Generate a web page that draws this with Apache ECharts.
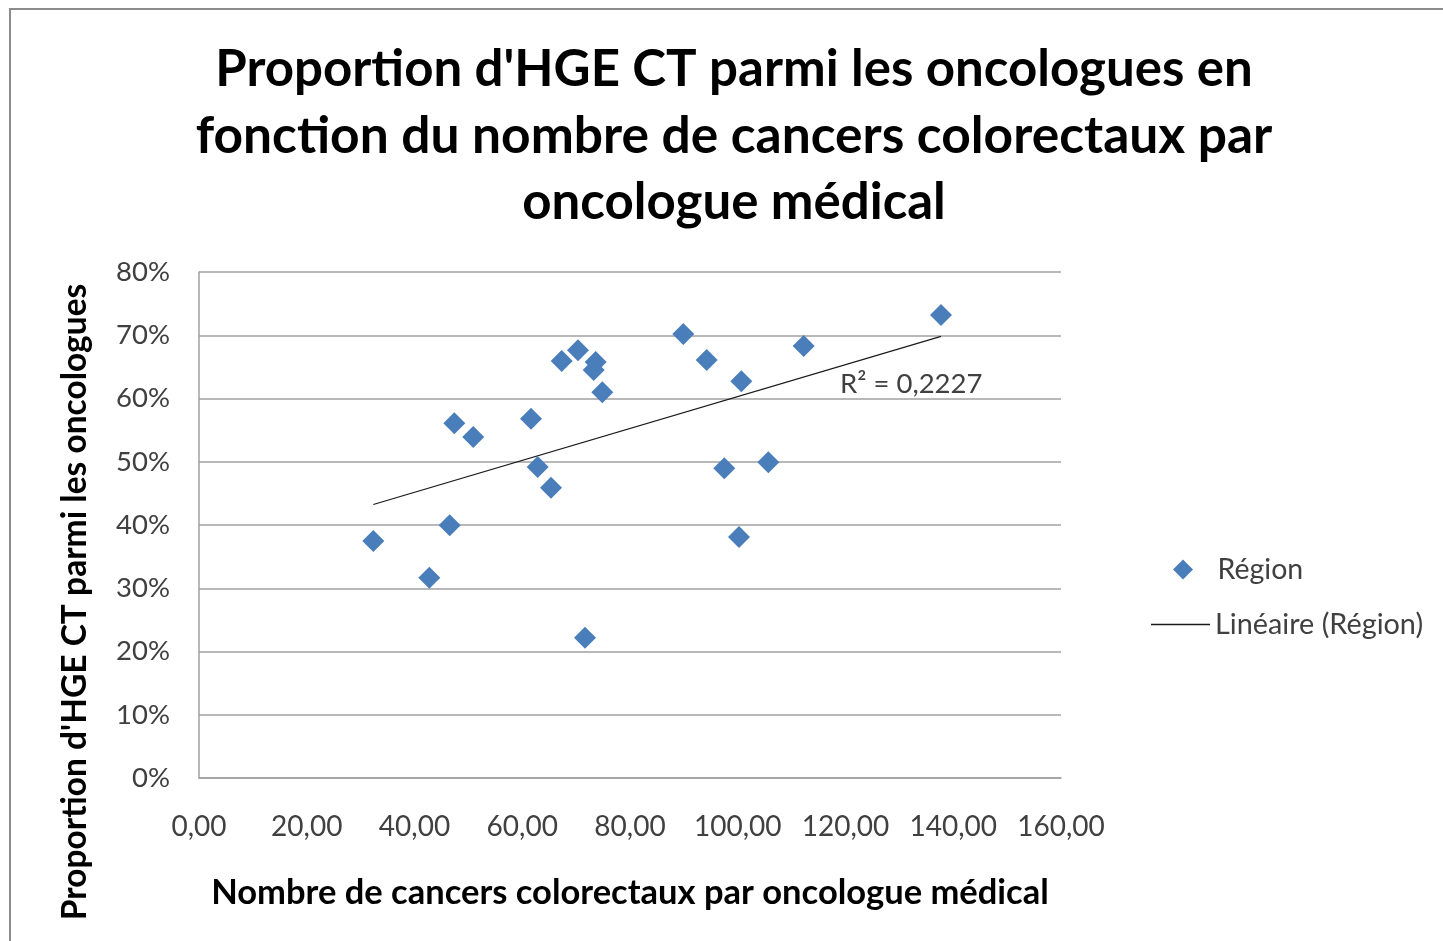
<!DOCTYPE html>
<html>
<head>
<meta charset="utf-8">
<script src="https://cdn.jsdelivr.net/npm/echarts@6/dist/echarts.min.js"></script>
<style>
html,body{margin:0;padding:0;background:#fff;}
#chart{width:1443px;height:941px;}
</style>
</head>
<body>
<div id="chart"></div>
<script>
// Nombre de cancers colorectaux par oncologue médical
const xValues = [32.35, 42.75, 46.53, 47.39, 50.91, 61.62, 62.87, 65.34, 67.32, 70.35, 73.63,
                 73.26, 74.86, 71.65, 89.89, 94.24, 100.66, 112.24, 137.73, 97.50, 105.67, 100.23];
// Proportion d'HGE CT parmi les oncologues
const yValues = [0.3747, 0.3167, 0.3995, 0.5608, 0.5391, 0.5681, 0.4917, 0.4590, 0.6593, 0.6762, 0.6577,
                 0.6451, 0.6098, 0.2218, 0.7020, 0.6609, 0.6272, 0.6830, 0.7320, 0.4896, 0.4991, 0.3810];
const seriesName = 'Région';
const trendName = 'Linéaire (Région)';
const r2Label = 'R² = 0,2227';
const titleLines = ["Proportion d'HGE CT parmi les oncologues en",
                    "fonction du nombre de cancers colorectaux par",
                    "oncologue médical"];
const xAxisTitle = 'Nombre de cancers colorectaux par oncologue médical';
const yAxisTitle = "Proportion d'HGE CT parmi les oncologues";

const points = xValues.map((x, i) => [x, yValues[i]]);

// least-squares trendline
const n = xValues.length;
const mx = xValues.reduce((a, b) => a + b, 0) / n;
const my = yValues.reduce((a, b) => a + b, 0) / n;
let sxy = 0, sxx = 0;
for (let i = 0; i < n; i++) { sxy += (xValues[i] - mx) * (yValues[i] - my); sxx += (xValues[i] - mx) ** 2; }
const slope = sxy / sxx, intercept = my - slope * mx;
const xMin = Math.min(...xValues), xMax = Math.max(...xValues);
const trend = [[xMin, intercept + slope * xMin], [xMax, intercept + slope * xMax]];

const FONT = 'Lato, "Open Sans", sans-serif';
const chart = echarts.init(document.getElementById('chart'));
chart.setOption({
  backgroundColor: '#fff',
  animation: false,
  graphic: [
    { type: 'rect', shape: { x: 10, y: 9, width: 1440, height: 940 }, style: { fill: 'none', stroke: '#8c8c8c', lineWidth: 2 } },
    { type: 'text', x: 734, y: 70, style: { text: titleLines[0], font: 'bold 51px ' + FONT, fill: '#000', align: 'center', verticalAlign: 'middle' } },
    { type: 'text', x: 734, y: 136, style: { text: titleLines[1], font: 'bold 51.5px ' + FONT, fill: '#000', align: 'center', verticalAlign: 'middle' } },
    { type: 'text', x: 734, y: 203, style: { text: titleLines[2], font: 'bold 51px ' + FONT, fill: '#000', align: 'center', verticalAlign: 'middle' } },
    { type: 'text', x: 75, y: 602, rotation: Math.PI / 2, style: { text: yAxisTitle, font: 'bold 33.5px ' + FONT, fill: '#000', align: 'center', verticalAlign: 'middle' } },
    { type: 'text', x: 840, y: 384, style: { text: r2Label, font: '27.5px ' + FONT, fill: '#404040', align: 'left', verticalAlign: 'middle' } }
  ],
  grid: { left: 199, top: 272, right: 382, bottom: 163, containLabel: false },
  xAxis: {
    type: 'value', min: 0, max: 160, interval: 20,
    name: xAxisTitle, nameLocation: 'middle', nameGap: 97,
    nameTextStyle: { fontFamily: FONT, fontWeight: 'bold', fontSize: 34.5, color: '#000' },
    axisLine: { show: true, lineStyle: { color: '#a0a0a0', width: 1.5 } },
    axisTick: { show: false },
    splitLine: { show: false },
    axisLabel: { fontFamily: FONT, fontSize: 28, color: '#404040', margin: 35,
      formatter: v => v.toFixed(2).replace('.', ',') }
  },
  yAxis: {
    type: 'value', min: 0, max: 0.8, interval: 0.1,
    axisLine: { show: true, lineStyle: { color: '#a0a0a0', width: 1.5 } },
    axisTick: { show: false },
    splitLine: { show: true, lineStyle: { color: '#a0a0a0', width: 1.5 } },
    axisLabel: { fontFamily: FONT, fontSize: 27.5, color: '#404040', margin: 29,
      formatter: v => Math.round(v * 100) + '%' }
  },
  legend: [
    { orient: 'vertical', left: 1168, top: 550, itemWidth: 59, itemHeight: 20,
      data: [{ name: seriesName, icon: 'path://M0,-1L1,0L0,1L-1,0Z' }],
      textStyle: { fontFamily: FONT, fontSize: 28.5, color: '#404040' } },
    { orient: 'vertical', left: 1146, top: 605, itemWidth: 59, itemHeight: 1.5,
      data: [{ name: trendName, icon: 'rect' }],
      textStyle: { fontFamily: FONT, fontSize: 28.8, color: '#404040' } }
  ],
  series: [
    { name: seriesName, type: 'scatter', data: points, symbol: 'diamond', symbolSize: 22,
      itemStyle: { color: '#4A7EBB', opacity: 1 }, z: 3 },
    { name: trendName, type: 'line', data: trend, symbol: 'none', showSymbol: false,
      lineStyle: { color: '#1a1a1a', width: 1.3 }, itemStyle: { color: '#1a1a1a' }, z: 2 }
  ]
});
</script>
</body>
</html>
